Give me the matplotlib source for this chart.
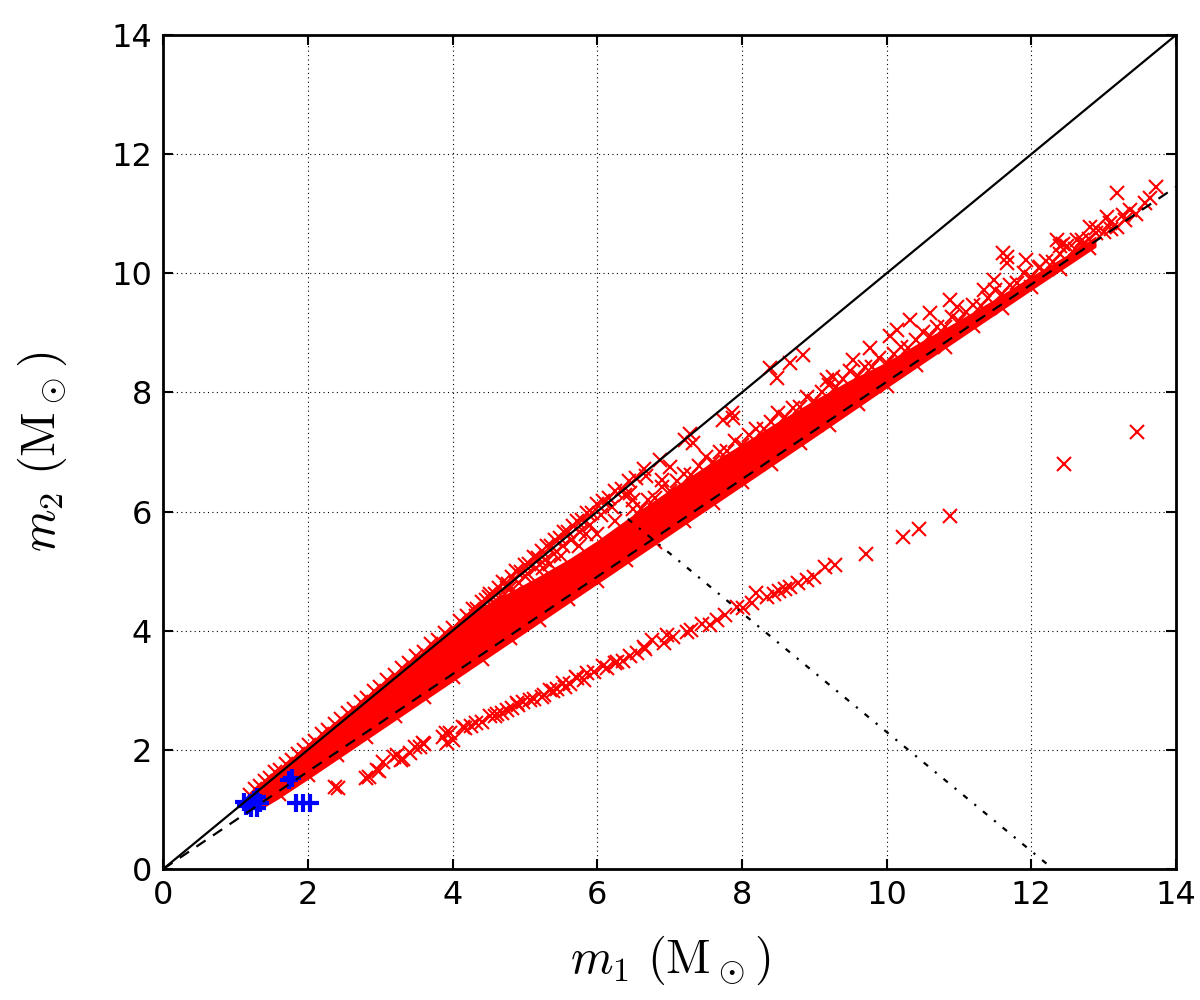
import matplotlib
matplotlib.use("Agg")
import matplotlib.pyplot as plt

# ---------------- data ----------------
# reference lines
diag_x = [0.0, 14.0]
diag_y = [0.0, 14.0]
qmin_x = [0.0, 14.0]
qmin_y = [0.0, 11.45]
mtot_x = [6.15, 12.3]
mtot_y = [6.15, 0.0]

# envelope of the densely packed red markers (upper edge left->right, lower edge right->left)
band_upper_x = [1.17, 1.5, 2.0, 2.5, 3.0, 3.5, 4.0, 4.3, 4.45, 4.7, 5.16, 5.62, 6.0, 6.55,
                7.0, 7.5, 8.0, 8.5, 9.0, 9.5, 10.0, 10.5, 11.0, 11.5, 12.0, 12.5, 12.9]
band_upper_y = [1.20, 1.55, 2.06, 2.56, 3.06, 3.56, 4.06, 4.34, 4.42, 4.58, 4.88, 5.20, 5.50, 5.98,
                6.35, 6.75, 7.12, 7.50, 7.86, 8.20, 8.50, 8.86, 9.20, 9.56, 9.94, 10.30, 10.62]
band_lower_x = [12.9, 12.0, 11.0, 10.0, 9.0, 8.0, 7.0, 6.0, 5.0, 4.0, 3.0, 2.0, 1.6, 1.42, 1.25]
band_lower_y = [10.43, 9.70, 8.88, 8.06, 7.23, 6.41, 5.59, 4.77, 3.95, 3.13, 2.31, 1.49, 1.17, 1.04, 1.08]

# red markers along the equal-mass edge at low masses
edge_lo_x = [1.20, 1.27, 1.34, 1.41, 1.48, 1.55, 1.62, 1.70, 1.78, 1.86, 1.94, 2.02, 2.10, 2.19, 2.28,
             2.37, 2.46, 2.55, 2.64, 2.73, 2.82, 2.91, 3.00, 3.10, 3.20, 3.30, 3.40, 3.50, 3.60, 3.70,
             3.80, 3.90, 4.00, 4.10, 4.20]
edge_lo_y = [1.25, 1.34, 1.39, 1.48, 1.53, 1.62, 1.67, 1.76, 1.83, 1.93, 1.99, 2.08, 2.15, 2.26, 2.33,
             2.44, 2.51, 2.62, 2.69, 2.80, 2.87, 2.98, 3.05, 3.17, 3.25, 3.37, 3.45, 3.57, 3.65, 3.77,
             3.85, 3.97, 4.05, 4.17, 4.25]

# red markers in the sparser wedge just below m1 = m2
wedge_x = [4.28, 4.34, 4.40, 4.46, 4.52, 4.58, 4.64, 4.70, 4.76, 4.82, 4.88, 4.94, 5.00, 5.06, 5.12,
           5.18, 5.24, 5.30, 5.36, 5.42, 5.48, 5.54, 5.60, 5.66, 5.72, 5.79, 5.86, 5.93, 6.00, 6.08,
           6.16, 6.25, 6.34, 6.44, 6.54, 6.65,
           4.32, 4.44, 4.56, 4.68, 4.80, 4.92, 5.04, 5.16, 5.28, 5.40, 5.52, 5.64, 5.76, 5.90, 6.05,
           6.20, 6.38,
           4.40, 4.85, 5.35, 5.85,
           4.50, 4.75, 5.00, 5.25, 5.50, 5.75, 6.00, 6.25, 6.50]
wedge_y = [4.36, 4.37, 4.49, 4.51, 4.62, 4.62, 4.72, 4.81, 4.79, 4.91, 5.00, 4.99, 5.10, 5.12, 5.24,
           5.22, 5.34, 5.43, 5.42, 5.53, 5.56, 5.66, 5.65, 5.76, 5.85, 5.86, 5.97, 5.98, 6.12, 6.17,
           6.22, 6.35, 6.38, 6.52, 6.56, 6.71,
           4.24, 4.32, 4.47, 4.57, 4.71, 4.80, 4.95, 5.05, 5.19, 5.28, 5.43, 5.52, 5.66, 5.78, 5.94,
           6.08, 6.27,
           4.17, 4.62, 5.12, 5.62,
           4.56, 4.72, 4.92, 5.06, 5.25, 5.42, 5.63, 5.85, 6.04]

# isolated red markers close to m1 = m2 at higher masses
near_eq_x = [6.45, 6.50, 6.68, 6.87, 6.89, 7.01, 7.21, 7.28, 7.33, 7.74, 7.86, 7.88, 8.39, 8.48, 8.67, 8.85]
near_eq_y = [6.31, 6.19, 6.59, 6.87, 6.53, 6.75, 7.20, 7.31, 7.15, 7.54, 7.65, 7.57, 8.41, 8.24, 8.49, 8.63]

# red markers along the upper edge of the main band
edge_up_x = [6.6, 6.7, 6.8, 6.9, 7.0, 7.1, 7.2, 7.3, 7.4, 7.5, 7.6, 7.7, 7.8, 7.9, 8.0, 8.1, 8.2, 8.3,
             8.4, 8.5, 8.6, 8.7, 8.8, 8.9, 9.0, 9.1, 9.2, 9.3, 9.4, 9.5, 9.6, 9.7, 9.8, 9.9, 10.0,
             10.1, 10.2, 10.3, 10.4, 10.5, 10.6, 10.7, 10.8, 10.9, 11.0, 11.1, 11.2, 11.3, 11.4,
             11.5, 11.6, 11.7, 11.8, 11.9, 12.0, 12.1, 12.2, 12.3, 12.4, 12.5, 12.6, 12.7, 12.8, 12.9]
edge_up_y = [6.04, 6.20, 6.23, 6.41, 6.35, 6.51, 6.63, 6.62, 6.76, 6.91, 6.84, 7.00, 7.01, 7.19, 7.12,
             7.28, 7.39, 7.38, 7.51, 7.66, 7.59, 7.74, 7.76, 7.93, 7.86, 8.01, 8.12, 8.09, 8.22, 8.36,
             8.28, 8.42, 8.42, 8.58, 8.50, 8.65, 8.76, 8.75, 8.88, 9.02, 8.95, 9.10, 9.10, 9.27, 9.20,
             9.35, 9.46, 9.45, 9.58, 9.72, 9.66, 9.81, 9.83, 10.00, 9.94, 10.09, 10.20, 10.19, 10.32,
             10.46, 10.40, 10.56, 10.58, 10.76]

# scattered red markers above the main band and at its high-mass end
upper_sc_x = [9.17, 9.26, 9.54, 9.77, 10.05, 10.14, 10.32, 10.60, 10.88, 10.97, 11.34, 11.48, 11.61,
              11.66, 11.66, 11.93, 12.12, 12.35, 12.44, 12.40, 12.63, 12.71, 12.81, 12.90, 13.00,
              13.04, 13.09, 13.10, 13.18, 13.27, 13.18, 13.30, 13.36, 13.45, 13.57, 13.64, 13.73]
upper_sc_y = [8.21, 8.26, 8.54, 8.74, 8.94, 9.05, 9.22, 9.33, 9.55, 9.44, 9.72, 9.89, 10.34,
              10.17, 10.28, 10.22, 10.11, 10.56, 10.50, 10.45, 10.56, 10.50, 10.78, 10.67, 10.70,
              10.95, 10.84, 10.75, 10.78, 10.98, 11.34, 10.90, 11.06, 11.00, 11.18, 11.26, 11.45]

# red markers along the lower (dashed) edge of the main band
edge_dn_x = [1.6, 2.0, 2.4, 2.8, 3.2, 3.6, 4.0, 4.4, 4.8, 5.2, 5.6, 6.0, 6.4, 6.8, 7.2, 7.6, 8.0, 8.4,
             8.8, 9.2, 9.6, 10.0, 10.4, 10.8, 11.2, 11.6, 12.0, 12.4, 12.8]
edge_dn_y = [1.26, 1.57, 1.91, 2.22, 2.57, 2.88, 3.22, 3.53, 3.88, 4.18, 4.53, 4.84, 5.19, 5.49, 5.84,
             6.15, 6.49, 6.80, 7.15, 7.46, 7.80, 8.11, 8.46, 8.76, 9.11, 9.42, 9.77, 10.07, 10.42]

# the separate lower branch of red markers
branch_x = [2.38, 2.42, 2.81, 2.85, 2.95, 2.98, 3.04, 3.19, 3.23, 3.29, 3.32, 3.41, 3.48, 3.55, 3.59,
            3.60, 3.87, 3.91, 3.92, 3.97, 4.01, 4.15, 4.17, 4.25, 4.33, 4.40, 4.52, 4.59, 4.61, 4.68,
            4.75, 4.82, 4.89, 4.91, 4.98, 5.07, 5.12, 5.23, 5.26, 5.35, 5.39, 5.45, 5.53, 5.55, 5.62,
            5.71, 5.72, 5.81, 5.86, 5.95, 6.08, 6.13, 6.24, 6.27, 6.35, 6.45, 6.55, 6.64, 6.66, 6.76,
            6.92, 6.97, 7.05, 7.24, 7.30, 7.45, 7.56, 7.65, 7.77, 7.93, 8.02, 8.14, 8.19, 8.35, 8.45,
            8.51, 8.60, 8.67, 8.78, 8.90, 8.99, 9.15, 9.28]
branch_y = [1.38, 1.36, 1.52, 1.55, 1.66, 1.64, 1.80, 1.88, 1.91, 1.83, 1.84, 1.94, 2.05, 2.05, 2.11,
            2.09, 2.22, 2.28, 2.11, 2.28, 2.17, 2.39, 2.36, 2.40, 2.45, 2.47, 2.56, 2.56, 2.61, 2.62,
            2.67, 2.70, 2.78, 2.76, 2.80, 2.84, 2.86, 2.89, 2.92, 3.00, 2.98, 3.02, 3.12, 3.06, 3.10,
            3.23, 3.20, 3.17, 3.29, 3.30, 3.40, 3.38, 3.45, 3.47, 3.50, 3.58, 3.62, 3.73, 3.70, 3.84,
            3.79, 3.93, 3.90, 3.98, 4.02, 4.12, 4.10, 4.18, 4.26, 4.40, 4.38, 4.46, 4.63, 4.57, 4.62,
            4.66, 4.70, 4.74, 4.80, 4.85, 4.91, 5.07, 5.10]

# isolated outliers
outlier_x = [9.72, 10.23, 10.45, 10.87, 12.45, 13.46]
outlier_y = [5.29, 5.57, 5.70, 5.93, 6.80, 7.34]

# blue '+' markers
blue_x = [1.11, 1.18, 1.25, 1.29, 1.34, 1.22, 1.29, 1.14, 1.20, 1.31, 1.78, 1.74, 1.83, 1.93, 2.03]
blue_y = [1.13, 1.07, 1.16, 1.21, 1.10, 1.02, 1.03, 1.05, 1.10, 1.12, 1.53, 1.50, 1.10, 1.10, 1.10]

ticks = [0, 2, 4, 6, 8, 10, 12, 14]

# ---------------- plotting ----------------
plt.rcParams['font.family'] = ['DejaVu Sans']
plt.rcParams['mathtext.fontset'] = 'cm'

fig = plt.figure(figsize=(12, 10), dpi=100)
ax = fig.add_axes([0.136, 0.131, 0.844, 0.834])

RED = '#ff0000'
mk = dict(linestyle='none', marker='x', color=RED, ms=10.5, mew=1.5, zorder=3)

poly_x = band_upper_x + band_lower_x
poly_y = band_upper_y + band_lower_y
ax.fill(poly_x, poly_y, color=RED, lw=0, zorder=2)

for xs, ys in [(edge_lo_x, edge_lo_y), (wedge_x, wedge_y), (near_eq_x, near_eq_y),
               (edge_up_x, edge_up_y), (upper_sc_x, upper_sc_y), (edge_dn_x, edge_dn_y),
               (branch_x, branch_y), (outlier_x, outlier_y)]:
    ax.plot(xs, ys, **mk)

ax.plot(blue_x, blue_y, linestyle='none', marker='+', color='#0000ff', ms=13, mew=3.0, zorder=4)

ax.plot(diag_x, diag_y, color='k', lw=1.6, zorder=5)
ax.plot(qmin_x, qmin_y, color='k', lw=1.6, dashes=(5, 4), zorder=5)
ax.plot(mtot_x, mtot_y, color='k', lw=1.6, dashes=(2.5, 4, 1, 4), zorder=5)

ax.set_xlim(0, 14)
ax.set_ylim(0, 14)
ax.set_xticks(ticks)
ax.set_yticks(ticks)
ax.set_xticklabels([str(t) for t in ticks])
ax.set_yticklabels([str(t) for t in ticks])
ax.grid(True, color='k', linewidth=0.8, dashes=(1, 3))
ax.set_axisbelow(True)
ax.tick_params(direction='in', length=7, width=1.5, top=True, right=True,
               labelsize=23, pad=8)
for sp in ax.spines.values():
    sp.set_linewidth(2.0)

ax.set_xlabel(r'$m_1\ (\mathrm{M}_\odot)$', fontsize=35, labelpad=16)
ax.set_ylabel(r'$m_2\ (\mathrm{M}_\odot)$', fontsize=35, labelpad=30)

fig.savefig('out.png', dpi=100)
